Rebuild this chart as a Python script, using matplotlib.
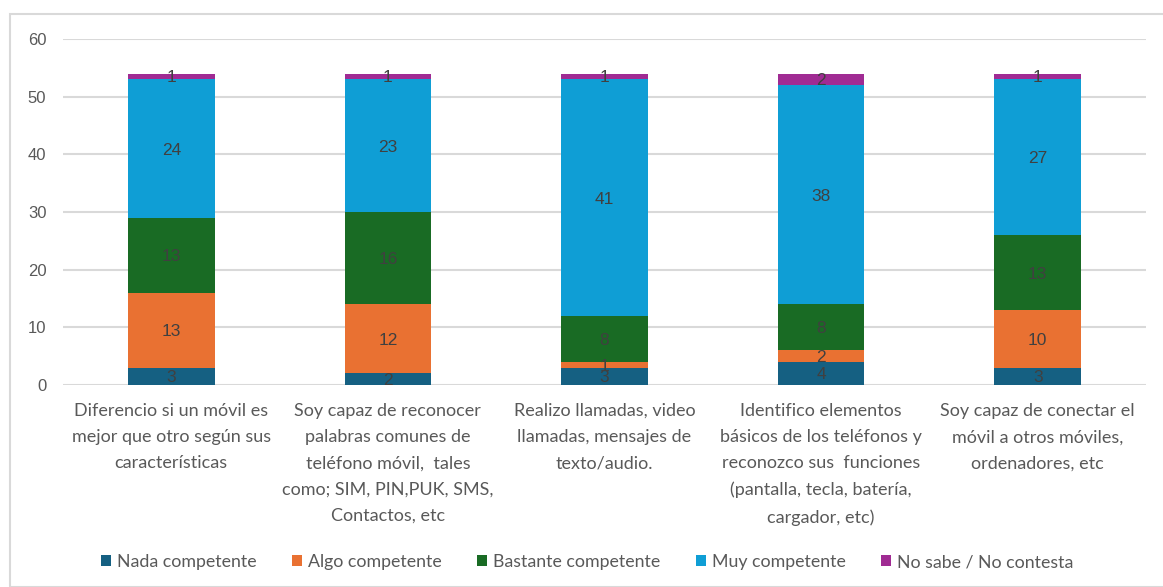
import matplotlib
matplotlib.use("Agg")
import matplotlib.pyplot as plt
from matplotlib.patches import Rectangle, Patch

categories = [
    "Diferencio si un móvil es\nmejor que otro según sus\ncaracterísticas",
    "Soy capaz de reconocer\npalabras comunes de\nteléfono móvil,  tales\ncomo; SIM, PIN,PUK, SMS,\nContactos, etc",
    "Realizo llamadas, video\nllamadas, mensajes de\ntexto/audio.",
    "Identifico elementos\nbásicos de los teléfonos y\nreconozco sus  funciones\n(pantalla, tecla, batería,\ncargador, etc)",
    "Soy capaz de conectar el\nmóvil a otros móviles,\nordenadores, etc",
]
series_names = ["Nada competente", "Algo competente", "Bastante competente",
                "Muy competente", "No sabe / No contesta"]
nada = [3, 2, 3, 4, 3]
algo = [13, 12, 1, 2, 10]
bastante = [13, 16, 8, 8, 13]
muy = [24, 23, 41, 38, 27]
no_sabe = [1, 1, 1, 2, 1]
y_ticks = [0, 10, 20, 30, 40, 50, 60]

colors = ["#156082", "#E97132", "#196B24", "#0F9ED5", "#A02B93"]
series = [nada, algo, bastante, muy, no_sabe]

plt.rcParams["font.family"] = ["Lato", "DejaVu Sans"]
W, H = 1163, 587
fig = plt.figure(figsize=(W / 100, H / 100), dpi=100)

# outer chart frame
fig.patches.append(Rectangle((10 / W, 0), 1.2, 1 - 14 / H, transform=fig.transFigure,
                             fill=False, edgecolor="#D9D9D9", linewidth=1.5))

ax = fig.add_axes([63 / W, 1 - 385 / H, (1146 - 63) / W, (385 - 39) / H])
x = list(range(len(categories)))
bottom = [0] * len(categories)
for vals, col, name in zip(series, colors, series_names):
    ax.bar(x, vals, bottom=bottom, width=0.4, color=col, label=name, zorder=3)
    for xi, b, v in zip(x, bottom, vals):
        ax.text(xi, b + v / 2, str(v), ha="center", va="center_baseline",
                fontsize=12.5, color="#404040", zorder=4,
                family=["Liberation Sans", "DejaVu Sans"])
    bottom = [b + v for b, v in zip(bottom, vals)]

ax.set_xlim(-0.5, len(categories) - 0.5)
ax.set_ylim(0, 60)
ax.set_yticks(y_ticks)
ax.set_yticklabels([str(t) for t in y_ticks], family=["Liberation Sans", "DejaVu Sans"],
                   fontsize=12, color="#595959")
ax.set_xticks(x)
ax.set_xticklabels(categories, fontsize=13, color="#595959", linespacing=1.78, va="top")
ax.tick_params(axis="both", length=0)
ax.tick_params(axis="y", pad=12)
ax.tick_params(axis="x", pad=13)
ax.yaxis.grid(True, color="#D9D9D9", linewidth=1.5, zorder=0)
for s in ax.spines.values():
    s.set_visible(False)

handles = [Patch(facecolor=c, edgecolor="none") for c in colors]
fig.legend(handles, series_names, loc="center", bbox_to_anchor=(0.505, 1 - 562 / H),
           ncol=5, frameon=False, fontsize=12.8, labelcolor="#595959",
           handlelength=0.55, handleheight=0.55, handletextpad=0.35, columnspacing=2.0)

fig.savefig("out.png", dpi=100)
